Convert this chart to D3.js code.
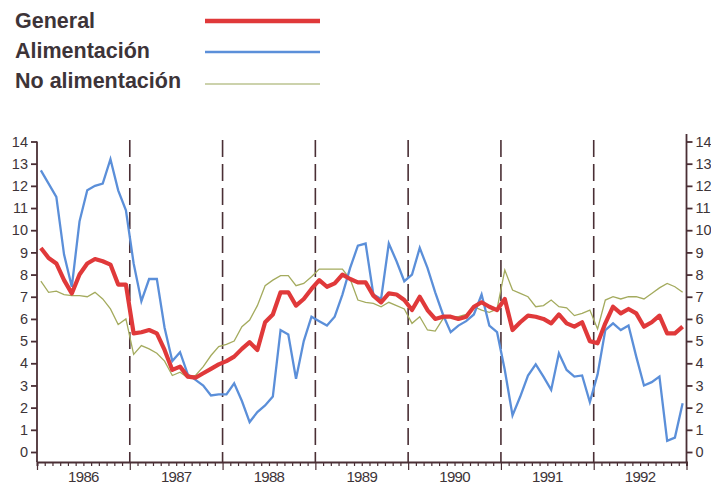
<!DOCTYPE html>
<html><head><meta charset="utf-8">
<script src="https://cdn.jsdelivr.net/npm/d3@7"></script>
<style>body{margin:0;background:#fff}svg{display:block}</style>
</head><body>
<svg id="c" width="711" height="485"></svg>
<script>
const years = ["1986","1987","1988","1989","1990","1991","1992"];
const yTicks = [0,1,2,3,4,5,6,7,8,9,10,11,12,13,14];
const seriesNames = ["General","Alimentación","No alimentación"];
const general = [9.2,8.75,8.5,7.75,7.15,8.0,8.5,8.7,8.6,8.45,7.55,7.55,
 5.35,5.4,5.5,5.35,4.6,3.7,3.85,3.4,3.35,3.55,3.75,3.95,
 4.1,4.3,4.65,4.95,4.6,5.85,6.2,7.2,7.2,6.6,6.9,7.35,
 7.75,7.45,7.6,8.0,7.8,7.65,7.65,7.05,6.75,7.15,7.1,6.85,
 6.4,7.0,6.4,6.0,6.1,6.1,6.0,6.1,6.55,6.75,6.55,6.4,
 6.9,5.5,5.85,6.15,6.1,6.0,5.8,6.2,5.8,5.65,5.85,5.0,
 4.9,5.8,6.55,6.25,6.45,6.25,5.65,5.85,6.15,5.35,5.35,5.65];
const alimentacion = [12.7,12.1,11.5,8.9,7.45,10.4,11.8,12.0,12.1,13.2,11.8,10.9,
 8.5,6.8,7.8,7.8,5.6,4.1,4.5,3.5,3.25,3.0,2.55,2.6,
 2.6,3.1,2.3,1.35,1.8,2.1,2.5,5.5,5.3,3.3,5.0,6.1,
 5.9,5.7,6.1,7.1,8.3,9.3,9.4,7.1,6.9,9.4,8.6,7.7,
 8.0,9.2,8.3,7.2,6.2,5.4,5.7,5.9,6.2,7.1,5.7,5.4,
 3.7,1.65,2.5,3.45,3.95,3.4,2.8,4.45,3.7,3.4,3.45,2.25,
 3.5,5.5,5.8,5.5,5.7,4.3,3.0,3.15,3.4,0.5,0.65,2.2];
const noAlimentacion = [7.7,7.2,7.25,7.1,7.05,7.05,7.0,7.2,6.9,6.45,5.75,6.0,
 4.4,4.8,4.65,4.45,4.1,3.45,3.6,3.35,3.45,3.85,4.35,4.75,
 4.85,5.0,5.65,5.95,6.6,7.5,7.75,7.95,7.95,7.5,7.6,7.9,
 8.25,8.25,8.25,8.25,7.8,6.85,6.75,6.7,6.55,6.75,6.6,6.45,
 5.8,6.1,5.5,5.45,6.0,6.1,6.1,6.2,6.55,6.4,6.3,6.45,
 8.2,7.3,7.15,7.0,6.55,6.6,6.85,6.55,6.5,6.15,6.25,6.4,
 5.55,6.85,7.0,6.9,7.0,7.0,6.9,7.15,7.4,7.6,7.45,7.2];

const svg = d3.select("#c");
const axisCol = "#4a2f35";
const textCol = "#3d3438";
const font = "'Liberation Sans', Arial, Helvetica, sans-serif";

const x = d3.scaleLinear().domain([0, years.length*12]).range([37, 686.5]);
const y = d3.scaleLinear().domain([0, 14]).range([452, 141.5]);
const yBottom = 462;

// legend
const legend = [
  {name: seriesNames[0], color: "#e0393a", w: 4.5, yy: 21, ty: 28},
  {name: seriesNames[1], color: "#5b8fd9", w: 2.5, yy: 52, ty: 58},
  {name: seriesNames[2], color: "#9aa55a", w: 1.2, yy: 84, ty: 88}
];
legend.forEach(d => {
  svg.append("text").attr("x", 15).attr("y", d.ty).text(d.name)
    .attr("font-family", font).attr("font-weight", "bold").attr("font-size", 21.5)
    .attr("fill", textCol);
  svg.append("line").attr("x1", 205).attr("x2", 320).attr("y1", d.yy).attr("y2", d.yy)
    .attr("stroke", d.color).attr("stroke-width", d.w);
});

// year dashed separators
for (let k = 1; k < years.length; k++) {
  svg.append("line").attr("x1", x(k*12)).attr("x2", x(k*12))
    .attr("y1", 140).attr("y2", yBottom)
    .attr("stroke", axisCol).attr("stroke-width", 1.6)
    .attr("stroke-dasharray", "17,7");
}

// left axis
const gl = svg.append("g").attr("transform", `translate(${x(0)},0)`)
  .call(d3.axisLeft(y).tickValues(yTicks).tickSize(6).tickPadding(3).tickFormat(d3.format("d")));
gl.select(".domain").remove();
gl.append("line").attr("x1",0).attr("x2",0).attr("y1", y(14)).attr("y2", yBottom);
// right axis
const gr = svg.append("g").attr("transform", `translate(${x(84)},0)`)
  .call(d3.axisRight(y).tickValues(yTicks).tickSize(6).tickPadding(3).tickFormat(d3.format("d")));
gr.select(".domain").remove();
gr.append("line").attr("x1",0).attr("x2",0).attr("y1", 134).attr("y2", yBottom);
[gl, gr].forEach(g => {
  g.selectAll("line").attr("stroke", axisCol).attr("stroke-width", 1.8);
  g.selectAll("text").attr("font-family", font).attr("font-size", 14.5).attr("fill", textCol);
});

// bottom axis
const months = d3.range(0, 85);
const gb = svg.append("g").attr("transform", `translate(0,${yBottom})`)
  .call(d3.axisBottom(x).tickValues(months).tickSizeOuter(0).tickSize(4).tickFormat(""));
gb.select(".domain").attr("stroke", axisCol).attr("stroke-width", 2);
gb.selectAll(".tick line").attr("stroke", axisCol).attr("stroke-width", 1.2)
  .attr("y2", d => d % 12 === 0 ? 8 : 4);
svg.append("g").selectAll("text").data(years).join("text")
  .attr("x", (d,i) => x(i*12+6)).attr("y", 482)
  .attr("text-anchor", "middle").text(d => d)
  .attr("font-family", font).attr("font-size", 15).attr("fill", textCol)
  .attr("letter-spacing", -0.7);

// lines
const line = d3.line().x((d,i) => x(i + 0.5)).y(d => y(d));
svg.append("path").datum(noAlimentacion).attr("d", line).attr("fill","none")
  .attr("stroke", "#a4ab5e").attr("stroke-width", 1.3);
svg.append("path").datum(alimentacion).attr("d", line).attr("fill","none")
  .attr("stroke", "#5b8fd9").attr("stroke-width", 2.3);
svg.append("path").datum(general).attr("d", line).attr("fill","none")
  .attr("stroke", "#e0393a").attr("stroke-width", 4.2).attr("stroke-linejoin","round");
</script>
</body></html>
